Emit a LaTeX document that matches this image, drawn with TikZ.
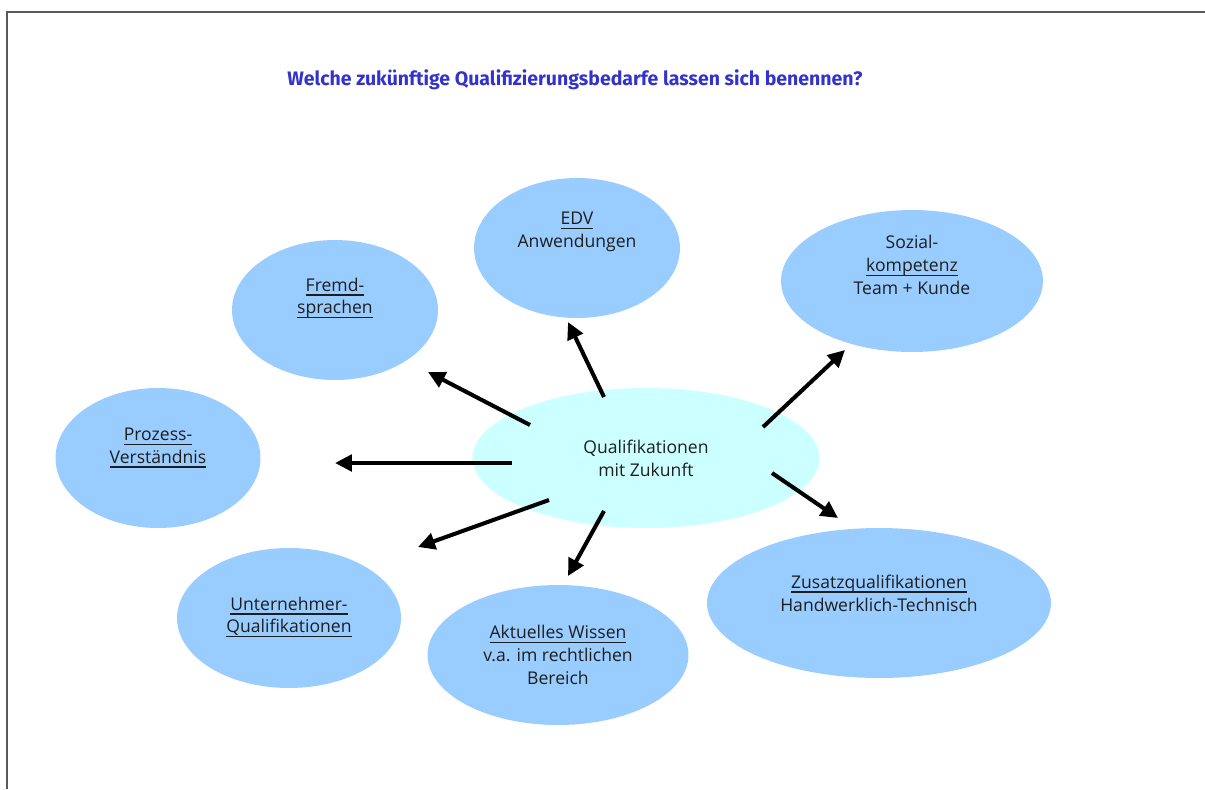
\documentclass[tikz,border=0pt]{standalone}
\usepackage{fontspec}
\setmainfont{Open Sans}
\newfontfamily\titlefont{Fira Sans}
\usetikzlibrary{shapes.geometric,arrows.meta}
\definecolor{bubblue}{HTML}{99CCFF}
\definecolor{ctrcyan}{HTML}{CCFFFF}
\definecolor{titleblue}{HTML}{3333CC}
\definecolor{txtgray}{HTML}{1E1E1E}
\definecolor{framegray}{HTML}{5A5A5A}
% underline close under the baseline
\newcommand\uline[1]{\leavevmode\vtop{\hbox{\setbox0\hbox{#1}\dp0=0pt\box0}\kern1.7pt\hrule height 0.85pt}}

\begin{document}
\begin{tikzpicture}[x=0.02cm,y=-0.02cm,
    bubble/.style={ellipse,fill=bubblue,inner sep=0pt},
    lbl/.style={align=center,text=txtgray,inner sep=0pt,font=\fontsize{10}{13}\selectfont},
    arr/.style={line width=2.3pt,-{Triangle[length=0.34cm,width=0.33cm]}}]
    \useasboundingbox (0,0) rectangle (1205,789);
    \draw[framegray,line width=0.9pt] (7,789) -- (7,12) -- (1205,12);

    % title
    \node[text=titleblue,font=\titlefont\bfseries\fontsize{11.1}{13}\selectfont] (title) at (575,80)
        {Welche zukünftige Qualifizierungsbedarfe lassen sich benennen?};

    % centre
    \node[bubble,fill=ctrcyan,minimum width=6.94cm,minimum height=2.8cm] (ctr) at (646,458) {};
    \node[lbl] (ctr-t) at (646,458) {Qualifikationen\\mit Zukunft};

    % outer bubbles
    \node[bubble,minimum width=4.12cm,minimum height=2.8cm] (edv) at (577,248) {};
    \node[lbl] (edv-t) at (577,232) {\uline{EDV}\\Anwendungen};

    \node[bubble,minimum width=4.12cm,minimum height=2.8cm] (fremd) at (335,310) {};
    \node[lbl] (fremd-t) at (335,298) {\uline{Fremd-}\\\uline{sprachen}};

    \node[bubble,minimum width=5.24cm,minimum height=2.84cm] (sozial) at (912,281) {};
    \node[lbl] (sozial-t) at (912,265) {Sozial-\\\uline{kompetenz}\\Team + Kunde};

    \node[bubble,minimum width=4.1cm,minimum height=2.8cm] (prozess) at (158,458) {};
    \node[lbl] (prozess-t) at (158,448) {\uline{Prozess-}\\\uline{Verständnis}};

    \node[bubble,minimum width=4.48cm,minimum height=2.8cm] (unter) at (289,618) {};
    \node[lbl] (unter-t) at (289,617) {\uline{Unternehmer-}\\\uline{Qualifikationen}};

    \node[bubble,minimum width=5.22cm,minimum height=2.8cm] (aktuell) at (558,655) {};
    \node[lbl] (aktuell-t) at (558,655) {\uline{Aktuelles Wissen}\\v.a. im rechtlichen\\Bereich};

    \node[bubble,minimum width=6.88cm,minimum height=3cm] (zusatz) at (879,603) {};
    \node[lbl] (zusatz-t) at (879,593) {\uline{Zusatzqualifikationen}\\Handwerklich-Technisch};

    % arrows
    \foreach \n/\s/\e in {fremd/{530,425}/{428,372}, edv/{604,397}/{568,322},
        sozial/{763,427}/{845,350}, prozess/{512,463}/{335,463},
        unter/{549,500}/{418,547}, aktuell/{604,511}/{568,576},
        zusatz/{772,473}/{838,518}}{
        \coordinate (\n-s) at (\s);
        \coordinate (\n-e) at (\e);
        \draw[arr] (\n-s) -- (\n-e);
    }
\end{tikzpicture}
\end{document}
